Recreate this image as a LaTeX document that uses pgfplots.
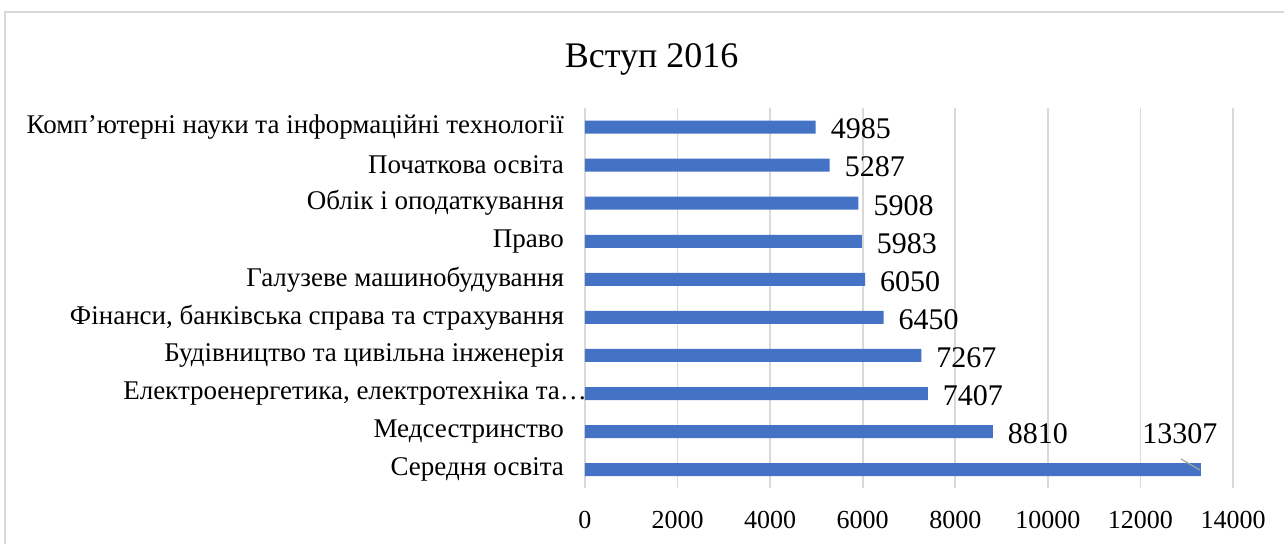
\documentclass[border=0pt]{standalone}
\usepackage{fontspec}
\setmainfont{Liberation Serif}
\usepackage{pgfplots}
\pgfplotsset{compat=1.18}
\definecolor{barblue}{HTML}{4472C4}
\definecolor{gridgray}{HTML}{D9D9D9}
\begin{document}
\begin{tikzpicture}
\useasboundingbox (-292.5pt,-28pt) rectangle (349.5pt,244pt);
\draw[gridgray, line width=1pt] (-290pt,-60pt) -- (-290pt,238pt) -- (400pt,238pt);
\begin{axis}[
  at={(0,0)}, anchor=south west,
  scale only axis,
  width=324pt, height=190pt,
  xbar, bar width=6.5pt, bar shift=0pt,
  xmin=0, xmax=14000,
  ymin=-0.48, ymax=9.5,
  xtick={0,2000,...,14000},
  scaled x ticks=false,
  ytick={0,...,9},
  yticklabels={Середня освіта, Медсестринство, {Електроенергетика, електротехніка та…\hspace*{-11.5pt}}, Будівництво та цивільна інженерія, {Фінанси, банківська справа та страхування}, Галузеве машинобудування, Право, Облік і оподаткування, Початкова освіта, Комп’ютерні науки та інформаційні технології},
  /pgf/number format/assume math mode=true,
  /pgf/number format/1000 sep={},
  xmajorgrids, grid style={gridgray, line width=0.9pt},
  axis line style={draw=none},
  major tick length=0pt,
  xticklabel style={font=\fontsize{13}{15}\selectfont, yshift=-8pt},
  yticklabel style={font=\fontsize{13.5}{16}\selectfont, xshift=-7pt},
  title={Вступ 2016},
  title style={font=\fontsize{18}{21}\selectfont, at={(0.103,1.095)}, anchor=center},
  clip=false,
]
\addplot[fill=barblue, draw=none,
  point meta=explicit symbolic,
  nodes near coords,
  every node near coord/.append style={font=\fontsize{15}{18}\selectfont, anchor=west, xshift=4pt, yshift=-1pt}]
  coordinates {
  (13307,0) []
  (8810,1) [8810]
  (7407,2) [7407]
  (7267,3) [7267]
  (6450,4) [6450]
  (6050,5) [6050]
  (5983,6) [5983]
  (5908,7) [5908]
  (5287,8) [5287]
  (4985,9) [4985]
};
\addplot[sharp plot, draw=none, mark=none, forget plot,
  nodes near coords,
  every node near coord/.append style={font=\fontsize{15}{18}\selectfont, anchor=center, xshift=-10.5pt, yshift=17.8pt}]
  coordinates {(13307,0)};
\draw[gray!70, line width=0.6pt] (axis cs:12877,0.281) -- (axis cs:13287,-0.008);
\end{axis}
\end{tikzpicture}
\end{document}
